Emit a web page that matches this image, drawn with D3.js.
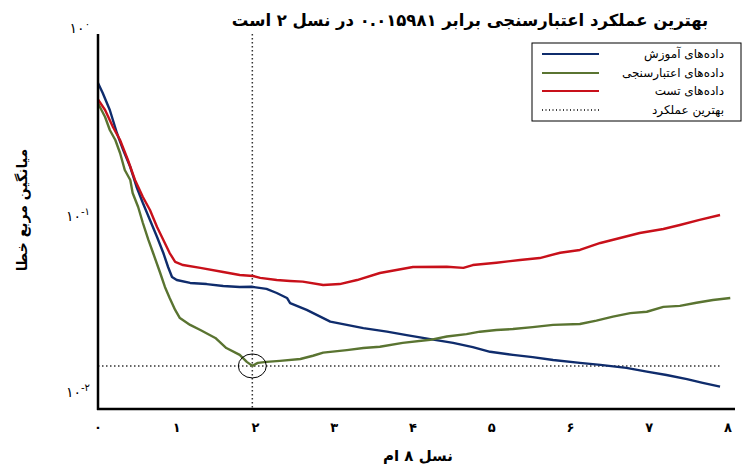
<!DOCTYPE html>
<html>
<head>
<meta charset="utf-8">
<script src="https://cdn.jsdelivr.net/npm/d3@7"></script>
<style>
  body { margin: 0; background: #fff; }
  svg { display: block; font-family: "DejaVu Sans", sans-serif; }
</style>
</head>
<body>
<svg id="chart" width="745" height="466"></svg>
<script>
// متن‌ها
const titleText = "بهترین عملکرد اعتبارسنجی برابر ۰.۰۱۵۹۸۱ در نسل ۲ است";
const xLabel = "نسل ۸ ام";
const yLabel = "میانگین مربع خطا";
const legendNames = ["داده‌های آموزش", "داده‌های اعتبارسنجی", "داده‌های تست", "بهترین عملکرد"];

// برچسب‌های محورها
const xTicks = [0, 1, 2, 3, 4, 5, 6, 7, 8];
const yTicks = [1, 0.1, 0.01];

// بهترین عملکرد
const bestEpoch = 1.96;
const bestPerf = 0.015981;

// داده‌های آموزش
const trainEpoch = [0, 0.06, 0.15, 0.24, 0.32, 0.41, 0.49, 0.57, 0.66, 0.75, 0.83, 0.89, 0.94, 1.0,
  1.17, 1.38, 1.59, 1.80, 1.95, 2.14, 2.27, 2.40, 2.44, 2.65, 2.95, 3.16, 3.37, 3.67, 3.92,
  4.22, 4.51, 4.76, 4.98, 5.27, 5.52, 5.78, 6.12, 6.38, 6.71, 6.97, 7.22, 7.48, 7.68, 7.90];
const trainPerf = [0.5085, 0.450, 0.3655, 0.276, 0.224, 0.182, 0.1426, 0.1172, 0.0953, 0.0773, 0.0636, 0.0536, 0.0474, 0.0457,
  0.0441, 0.0435, 0.0425, 0.0420, 0.0421, 0.0410, 0.0390, 0.0367, 0.0345, 0.0317, 0.0275, 0.0264, 0.0254, 0.0243, 0.0233,
  0.0222, 0.0212, 0.0201, 0.0190, 0.0183, 0.0178, 0.0172, 0.0166, 0.0162, 0.0156, 0.0149, 0.0143, 0.0136, 0.0130, 0.0124];

// داده‌های اعتبارسنجی
const valEpoch = [0, 0.09, 0.15, 0.22, 0.28, 0.34, 0.41, 0.44, 0.51, 0.57, 0.64, 0.70, 0.79, 0.85, 0.91, 0.98,
  1.04, 1.17, 1.30, 1.49, 1.63, 1.80, 1.89, 1.96, 2.03, 2.14, 2.31, 2.57, 2.73, 2.86, 3.16, 3.37, 3.58, 3.87,
  4.22, 4.43, 4.68, 4.85, 5.06, 5.27, 5.52, 5.78, 6.12, 6.33, 6.54, 6.76, 6.97, 7.18, 7.39, 7.60, 7.81, 8.03];
const valPerf = [0.3967, 0.3355, 0.2862, 0.2533, 0.2161, 0.1755, 0.1553, 0.1325, 0.1116, 0.0918, 0.0746, 0.0636, 0.0498, 0.0420, 0.0367, 0.0317,
  0.0287, 0.0264, 0.0248, 0.0225, 0.0199, 0.0183, 0.0168, 0.0160, 0.0166, 0.0168, 0.0170, 0.0174, 0.0181, 0.0188, 0.0194, 0.0199, 0.0202, 0.0212,
  0.0220, 0.0229, 0.0236, 0.0243, 0.0248, 0.0251, 0.0257, 0.0264, 0.0267, 0.0278, 0.0292, 0.0305, 0.0310, 0.0329, 0.0333, 0.0346, 0.0358, 0.0367];

// داده‌های تست
const testEpoch = [0, 0.09, 0.19, 0.28, 0.38, 0.47, 0.57, 0.66, 0.75, 0.83, 0.91, 0.98, 1.08, 1.30, 1.59, 1.80, 1.97,
  2.06, 2.27, 2.44, 2.60, 2.86, 3.07, 3.29, 3.58, 4.0, 4.43, 4.64, 4.76, 5.06, 5.36, 5.61, 5.87, 6.12, 6.38,
  6.63, 6.88, 7.18, 7.39, 7.64, 7.90];
const testPerf = [0.4167, 0.3655, 0.2970, 0.2533, 0.1983, 0.1553, 0.1262, 0.1076, 0.0874, 0.0746, 0.0636, 0.0570, 0.0549, 0.0530, 0.0504, 0.0486, 0.0480,
  0.0469, 0.0457, 0.0452, 0.0448, 0.0430, 0.0435, 0.0457, 0.0498, 0.0536, 0.0538, 0.0530, 0.0549, 0.0565, 0.0584, 0.0598, 0.0638, 0.0660, 0.0719,
  0.0764, 0.0812, 0.0853, 0.0896, 0.0953, 0.1012];

const series = [
  {name: legendNames[0], color: "#0f2c6c", epoch: trainEpoch, perf: trainPerf},
  {name: legendNames[1], color: "#5a7431", epoch: valEpoch, perf: valPerf},
  {name: legendNames[2], color: "#c8101a", epoch: testEpoch, perf: testPerf}
];

// تبدیل ارقام لاتین به فارسی
const fa = s => String(s).replace(/\d/g, c => "۰۱۲۳۴۵۶۷۸۹"[c]);

const svg = d3.select("#chart");
const plotLeft = 98, plotRight = 735, plotTop = 34, plotBottom = 409;

const x = d3.scaleLinear().domain([0, 8.09]).range([plotLeft, plotRight]);
const y = d3.scaleLog().domain([0.00944, 0.926]).range([plotBottom, plotTop]);

// خطوط نقطه‌چین بهترین عملکرد
svg.append("line")
  .attr("x1", x(bestEpoch)).attr("x2", x(bestEpoch))
  .attr("y1", plotTop).attr("y2", plotBottom)
  .attr("stroke", "#333").attr("stroke-width", 1.5).attr("stroke-dasharray", "1.5,2.5");
svg.append("line")
  .attr("x1", plotLeft).attr("x2", 722)
  .attr("y1", y(bestPerf)).attr("y2", y(bestPerf))
  .attr("stroke", "#333").attr("stroke-width", 1.5).attr("stroke-dasharray", "1.5,2.5");

// منحنی‌ها
const line = d3.line()
  .x(d => x(d[0]))
  .y(d => y(d[1]));

series.forEach(s => {
  svg.append("path")
    .datum(d3.zip(s.epoch, s.perf))
    .attr("fill", "none")
    .attr("stroke", s.color)
    .attr("stroke-width", 2.4)
    .attr("stroke-linejoin", "round")
    .attr("d", line);
});

// دایره دور بهترین نقطه
svg.append("ellipse")
  .attr("cx", x(bestEpoch)).attr("cy", y(bestPerf))
  .attr("rx", 14).attr("ry", 12)
  .attr("fill", "none").attr("stroke", "#000").attr("stroke-width", 1);

// محورها
svg.append("line")
  .attr("x1", plotLeft).attr("x2", plotLeft).attr("y1", plotTop).attr("y2", plotBottom + 1)
  .attr("stroke", "#000").attr("stroke-width", 2.5);
svg.append("line")
  .attr("x1", plotLeft - 1).attr("x2", plotRight).attr("y1", plotBottom).attr("y2", plotBottom)
  .attr("stroke", "#000").attr("stroke-width", 2.5);

svg.append("g").selectAll("text")
  .data(xTicks)
  .join("text")
  .attr("x", d => x(d))
  .attr("y", 432)
  .attr("text-anchor", "middle")
  .attr("font-size", 13)
  .attr("font-weight", "bold")
  .text(d => fa(d));

const yt = svg.append("g").selectAll("text")
  .data(yTicks)
  .join("text")
  .attr("x", 90)
  .attr("y", d => Math.min(y(d), plotBottom - 17) + 5)
  .attr("text-anchor", "end")
  .attr("direction", "ltr")
  .attr("font-size", 14);
yt.append("tspan").text("۱۰");
yt.append("tspan")
  .attr("dy", -6)
  .attr("font-size", 10)
  .text(d => d === 1 ? "۰" : "-" + fa(-Math.round(Math.log10(d))));

// عنوان و برچسب محورها
svg.append("text")
  .attr("x", 470).attr("y", 26)
  .attr("text-anchor", "middle")
  .attr("font-size", 16.5)
  .attr("font-weight", "bold")
  .text(titleText);

svg.append("text")
  .attr("x", 418).attr("y", 461)
  .attr("text-anchor", "middle")
  .attr("font-size", 15)
  .attr("font-weight", "bold")
  .text(xLabel);

svg.append("text")
  .attr("transform", "translate(27,210) rotate(-90)")
  .attr("text-anchor", "middle")
  .attr("font-size", 14)
  .attr("font-weight", "bold")
  .text(yLabel);

// راهنما
const legend = svg.append("g");
legend.append("rect")
  .attr("x", 532).attr("y", 43).attr("width", 209).attr("height", 78)
  .attr("fill", "#fff").attr("stroke", "#000").attr("stroke-width", 1);

const legendRows = [54, 73, 91, 110];
legendNames.forEach((name, i) => {
  const ly = legendRows[i];
  const ln = legend.append("line")
    .attr("x1", 542).attr("x2", 599).attr("y1", ly).attr("y2", ly);
  if (i < 3) {
    ln.attr("stroke", series[i].color).attr("stroke-width", 2);
  } else {
    ln.attr("stroke", "#000").attr("stroke-width", 1.5).attr("stroke-dasharray", "1,2.5");
  }
  legend.append("text")
    .attr("x", 724).attr("y", ly + 4)
    .attr("text-anchor", "end")
    .attr("font-size", 12)
    .text(name);
});
</script>
</body>
</html>
